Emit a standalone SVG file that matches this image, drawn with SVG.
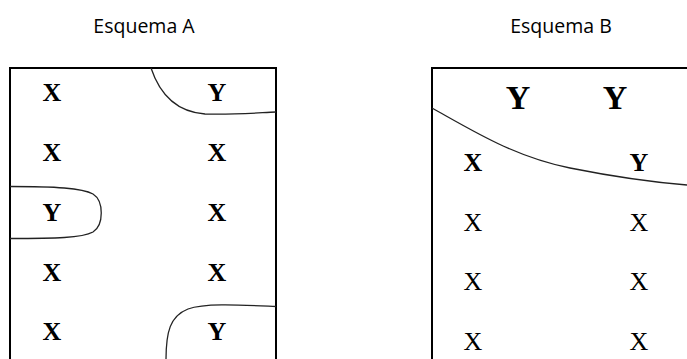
<svg xmlns="http://www.w3.org/2000/svg" width="687" height="359" viewBox="0 0 687 359">
<style>
.title{font-family:"Open Sans","Liberation Sans",sans-serif;font-size:19.5px;fill:#000;text-anchor:middle}
.xa{font-family:"Liberation Serif","Times New Roman",serif;font-size:26px;font-weight:bold;fill:#000;text-anchor:middle}
.xr{font-family:"Liberation Serif","Times New Roman",serif;font-size:26px;fill:#000;text-anchor:middle}
.yb{font-family:"Liberation Serif","Times New Roman",serif;font-size:34px;font-weight:bold;fill:#000;text-anchor:middle}
.box{fill:none;stroke:#000;stroke-width:2}
.curve{fill:none;stroke:#222;stroke-width:1.3}
</style>
<rect width="687" height="359" fill="#fff"/>
<g id="schemeA">
  <text class="title" x="144" y="33">Esquema A</text>
  <rect class="box" x="10" y="68" width="266" height="320"/>
  <text class="xa" x="52" y="101">X</text>
  <text class="xa" x="217" y="101">Y</text>
  <text class="xa" x="52" y="161">X</text>
  <text class="xa" x="217" y="161">X</text>
  <text class="xa" x="52" y="221">Y</text>
  <text class="xa" x="217" y="221">X</text>
  <text class="xa" x="52" y="281">X</text>
  <text class="xa" x="217" y="281">X</text>
  <text class="xa" x="52" y="340">X</text>
  <text class="xa" x="217" y="340">Y</text>
</g>
<g id="schemeB">
  <text class="title" x="561" y="33">Esquema B</text>
  <rect class="box" x="432" y="68" width="300" height="320"/>
  <text class="yb" x="518" y="109">Y</text>
  <text class="yb" x="615" y="109">Y</text>
  <text class="xa" x="473" y="171">X</text>
  <text class="xa" x="639" y="171">Y</text>
  <text class="xr" x="473" y="231">X</text>
  <text class="xr" x="639" y="231">X</text>
  <text class="xr" x="473" y="290">X</text>
  <text class="xr" x="639" y="290">X</text>
  <text class="xr" x="473" y="350">X</text>
  <text class="xr" x="639" y="350">X</text>
</g>
<g id="connectors">
  <path class="curve" d="M151,68 C160,95 178,112 205,114 C230,115 255,113 276,112"/>
  <path class="curve" d="M10,186.5 C55,186.5 82,188 93,194 C104,201 104,225 93,232 C82,238 55,238.5 10,238.5"/>
  <path class="curve" d="M276,306.5 C240,305 205,303 188,309 C170,316 166,332 166,360"/>
  <path class="curve" d="M432,108 C475,132 515,157 570,168 C610,176 650,182 687,185"/>
</g>
</svg>
